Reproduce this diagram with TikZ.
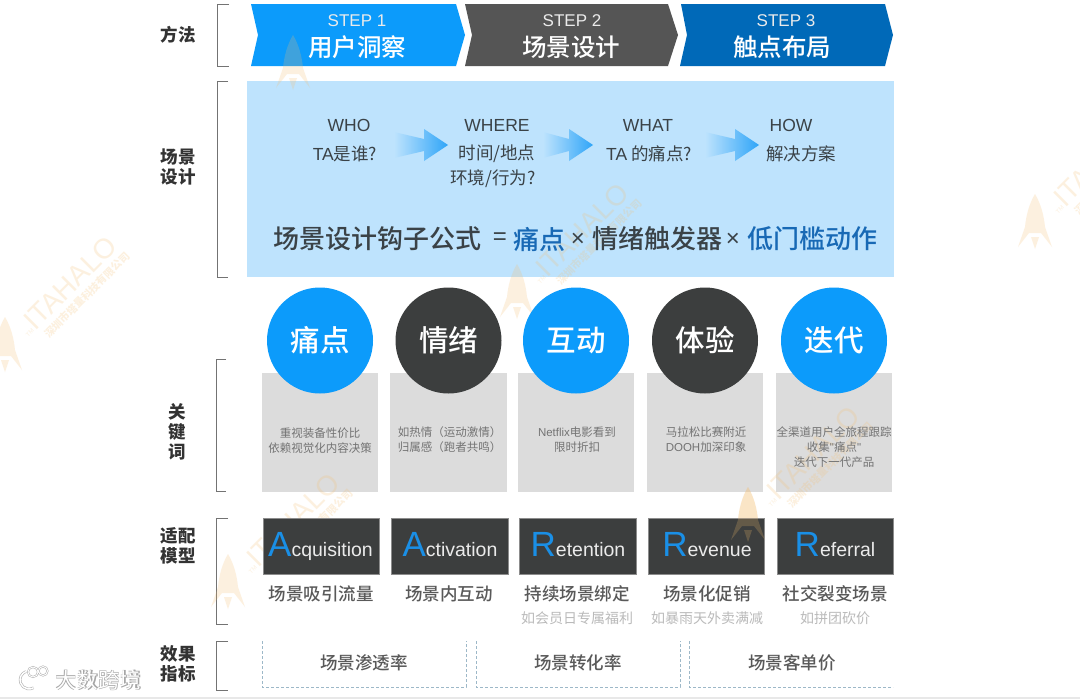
\documentclass[tikz,border=0pt]{standalone}
\usepackage{fontspec}
\usepackage{tikz}
\usetikzlibrary{calc}
\setmainfont{Noto Sans CJK SC}
\newfontfamily\lat{Liberation Sans}
\newfontfamily\med{Noto Sans CJK SC Medium}
\definecolor{skyfill}{HTML}{0C9BFB}
\definecolor{slatefill}{HTML}{555555}
\definecolor{navyfill}{HTML}{0069B8}
\definecolor{panelblue}{HTML}{BEE3FD}
\definecolor{arrowblue}{HTML}{2FA5F8}
\definecolor{inkblue}{HTML}{1869B5}
\definecolor{inkdark}{HTML}{3A4247}
\definecolor{darkfill}{HTML}{3C3E3E}
\definecolor{greyfill}{HTML}{DCDCDC}
\definecolor{letterblue}{HTML}{1A8FE6}
\definecolor{dashblue}{HTML}{9DB8C8}
\definecolor{stampink}{HTML}{F5BE6E}
\newcommand{\fsz}[1]{\fontsize{#1}{#1}\selectfont}
\tikzset{
	bracket/.style={draw=black!55,line width=1pt},
	sidelabel/.style={font=\fontsize{17.5}{20}\selectfont\bfseries,text=black!80,align=center,inner sep=0pt},
	steptag/.style={font=\lat\fsz{17},text=white!92!black,inner sep=0pt},
	steptitle/.style={font=\med\fsz{24.5},text=white,inner sep=0pt},
	asktext/.style={font=\fsz{17.5},text=inkdark,inner sep=0pt},
	asklat/.style={asktext,font=\lat\fsz{17.5}},
	formtext/.style={font=\med\fsz{26},text=inkdark,inner sep=0pt,anchor=west},
	formsign/.style={font=\lat\fsz{24},text=inkdark,inner sep=0pt},
	bubble/.style={circle,minimum size=106pt,inner sep=0pt,font=\med\fsz{29.5},text=white},
	notebox/.style={fill=greyfill,draw=none},
	notetext/.style={font=\fontsize{11.5}{15}\selectfont,text=black!55,align=center,inner sep=0pt},
	modelbox/.style={fill=darkfill,draw=black!45,line width=.5pt},
	modeltext/.style={anchor=base,inner sep=0pt,text=white!92!black,font=\lat\fsz{19.5}},
	usetext/.style={font=\med\fsz{17.5},text=black!65,inner sep=0pt},
	subtext/.style={font=\fsz{14},text=black!27,inner sep=0pt},
	metricline/.style={draw=dashblue,line width=.8pt,dash pattern=on 3pt off 2pt},
	metrictext/.style={font=\med\fsz{17.5},text=black!65,inner sep=0pt},
}
% big letter of a model name
\newcommand{\capl}[1]{{\fsz{35}\color{letterblue}#1}}
% faded arrow between the questions, tip at the named coordinate
\newcommand{\askarrow}[2]{
	\shade[left color=panelblue,right color=arrowblue]
		($(#1)+(-#2,-13)$) -- ($(#1)+(-24,-6)$) -- ($(#1)+(-24,-16)$) -- (#1)
		-- ($(#1)+(-24,16)$) -- ($(#1)+(-24,6)$) -- ($(#1)+(-#2,13)$) -- cycle;
}
% stamp over the whole sheet
\newcommand{\stamprocket}[2]{
	\begin{scope}[shift={(#1,#2)}]
		\fill[stampink] (0,-28) .. controls (6,-18) and (9,-6) .. (10,5) -- (17,25) -- (6,11) -- (-6,11) -- (-17,25) -- (-10,5) .. controls (-9,-6) and (-6,-18) .. (0,-28) -- cycle;
		\fill[stampink] (-4,15) -- (4,15) -- (0,27) -- cycle;
	\end{scope}
}
\newcommand{\stampmark}[3]{
	\stamprocket{#2}{#3}
	\begin{scope}[shift={(#2,#3)}]
		\node[rotate=45,font=\lat\fsz{28},text=stampink,inner sep=0pt] (stamp#1) at (65,-62) {ITAHALO};
		\node[rotate=45,font=\fsz{10.5}\bfseries,text=stampink,inner sep=0pt] (stampsub#1) at (82,-50) {深圳市塔量科技有限公司};
		\node[rotate=45,font=\lat\fsz{6},text=stampink,inner sep=0pt] (stamptm#1) at (25,-12) {TM};
	\end{scope}
}

\begin{document}
\begin{tikzpicture}[x=1pt,y=-1pt]
	\clip (0,0) rectangle (1080,699);
	\fill[white] (0,0) rectangle (1080,699);
	\fill[black!9] (0,697) rectangle (1080,699);

	% side brackets
	\draw[bracket] (229,4) -- (217,4) -- (217,66) -- (229,66);
	\draw[bracket] (228,81) -- (217,81) -- (217,277) -- (228,277);
	\draw[bracket] (226,359) -- (216,359) -- (216,491) -- (226,491);
	\draw[bracket] (228,518) -- (216,518) -- (216,624) -- (228,624);
	\draw[bracket] (228,641) -- (216,641) -- (216,690) -- (228,690);
	\node[sidelabel] (lbmethod) at (178,35) {方法};
	\node[sidelabel] (lbscene) at (178,167) {场景\\设计};
	\node[sidelabel] (lbkey) at (177,432) {关\\键\\词};
	\node[sidelabel] (lbmodel) at (178,546) {适配\\模型};
	\node[sidelabel] (lbeffect) at (178,664) {效果\\指标};

	% steps, panel and note boxes lie under the stamps
	\fill[skyfill] (251,4) -- (456,4) -- (465,35) -- (456,66) -- (251,66) -- (258,35) -- cycle;
	\fill[slatefill] (465,4) -- (668,4) -- (678,35) -- (668,66) -- (465,66) -- (472,35) -- cycle;
	\fill[navyfill] (681,4) -- (885,4) -- (893,35) -- (885,66) -- (680,66) -- (687,35) -- cycle;
	\fill[panelblue] (247,81) rectangle (894,277);
	\fill[notebox] (262,373) rectangle (378,492);
	\fill[notebox] (390,373) rectangle (507,492);
	\fill[notebox] (518,373) rectangle (634,492);
	\fill[notebox] (647,373) rectangle (763,492);
	\fill[notebox] (776,373) rectangle (892,492);

	% stamps
	\begin{scope}[opacity=.22]
		\stampmark{a}{5}{345}
		\stamprocket{293}{63}
		\stampmark{c}{517}{292}
		\stampmark{d}{228}{582}
		\stampmark{e}{748}{515}
		\stampmark{f}{1035}{222}
	\end{scope}

	% step texts
	\node[steptag] (tag1) at (357,21) {STEP 1};
	\node[steptitle] (title1) at (357,47) {用户洞察};
	\node[steptag] (tag2) at (572,21) {STEP 2};
	\node[steptitle] (title2) at (571,47) {场景设计};
	\node[steptag] (tag3) at (786,21) {STEP 3};
	\node[steptitle] (title3) at (782,47) {触点布局};

	% scene panel
	\node[asklat] (who) at (349,125) {WHO};
	\node[asktext] (whoq) at (345,154) {{\lat TA}是谁?};
	\node[asklat] (where) at (497,125) {WHERE};
	\node[asktext] (whereq) at (497,154) {时间/地点};
	\node[asktext] (whereq2) at (493,179) {环境/行为?};
	\node[asklat] (what) at (648,125) {WHAT};
	\node[asktext] (whatq) at (649,154) {{\lat TA} 的痛点?};
	\node[asklat] (how) at (791,125) {HOW};
	\node[asktext] (howq) at (801,154) {解决方案};
	\coordinate (tip1) at (448,145);
	\coordinate (tip2) at (593,145);
	\coordinate (tip3) at (759,145);
	\askarrow{tip1}{54}
	\askarrow{tip2}{50}
	\askarrow{tip3}{54}
	\node[formtext] (form1) at (273,239) {场景设计钩子公式};
	\node[formsign] (formeq) at (500,239) {=};
	\node[formtext,text=inkblue] (form2) at (513,239) {痛点};
	\node[formsign] (formx1) at (578,240) {×};
	\node[formtext] (form3) at (592,239) {情绪触发器};
	\node[formsign] (formx2) at (733,240) {×};
	\node[formtext,text=inkblue] (form4) at (747,239) {低门槛动作};

	% keywords
	\node[bubble,fill=skyfill] (pain) at (320,340.5) {痛点};
	\node[bubble,fill=darkfill] (mood) at (448.5,340.5) {情绪};
	\node[bubble,fill=skyfill] (talk) at (576,340.5) {互动};
	\node[bubble,fill=darkfill] (feel) at (705,340.5) {体验};
	\node[bubble,fill=skyfill] (iter) at (834,340.5) {迭代};
	\node[notetext] (note1) at (320,440.5) {重视装备性价比\\依赖视觉化内容决策};
	\node[notetext] (note2) at (449.5,440) {如热情（运动激情）\\归属感（跑者共鸣）};
	\node[notetext] (note3) at (577,440) {{\lat Netflix}电影看到\\限时折扣};
	\node[notetext] (note4) at (706,440) {马拉松比赛附近\\{\lat DOOH}加深印象};
	\node[notetext] (note5) at (834,447.5) {全渠道用户全旅程跟踪\\收集{\lat "}痛点{\lat "}\\迭代下一代产品};

	% models
	\filldraw[modelbox] (263,518) rectangle (379,574);
	\filldraw[modelbox] (391,518) rectangle (508,574);
	\filldraw[modelbox] (519,518) rectangle (636,574);
	\filldraw[modelbox] (648,518) rectangle (764,574);
	\filldraw[modelbox] (777,518) rectangle (893,574);
	\begin{scope}[opacity=.22]
		\stamprocket{748}{515}
	\end{scope}
	\node[modeltext] (acq) at (320.5,556) {\capl{A}cquisition};
	\node[modeltext] (act) at (450,556) {\capl{A}ctivation};
	\node[modeltext] (ret) at (578,556) {\capl{R}etention};
	\node[modeltext] (rev) at (707,556) {\capl{R}evenue};
	\node[modeltext] (ref) at (835,556) {\capl{R}eferral};
	\node[usetext] (use1) at (321,594) {场景吸引流量};
	\node[usetext] (use2) at (449,594) {场景内互动};
	\node[usetext] (use3) at (577,594) {持续场景绑定};
	\node[usetext] (use4) at (707,594) {场景化促销};
	\node[usetext] (use5) at (835,594) {社交裂变场景};
	\node[subtext] (sub3) at (577,618) {如会员日专属福利};
	\node[subtext] (sub4) at (707,618) {如暴雨天外卖满减};
	\node[subtext] (sub5) at (835,618) {如拼团砍价};

	% metrics
	\draw[metricline] (262,641) -- (262,687) -- (466,687) -- (466,641);
	\draw[metricline] (476,641) -- (476,687) -- (680,687) -- (680,641);
	\draw[metricline] (689,641) -- (689,687) -- (893,687);
	\node[metrictext] (rate1) at (364,663) {场景渗透率};
	\node[metrictext] (rate2) at (578,663) {场景转化率};
	\node[metrictext] (rate3) at (792,663) {场景客单价};

	% corner logo
	\draw[black!30,line width=2.6pt] (14,671) -- (14,689);
	\draw[black!30,line width=2.6pt] (26,671.5) arc[start angle=-110,end angle=-300,radius=9];
	\draw[black!30,line width=2pt] (33,672) circle (5) (43,671) circle (4.5);
	\draw[white,line width=1.4pt] (14,671) -- (14,689);
	\draw[white,line width=1.4pt] (26,671.5) arc[start angle=-110,end angle=-300,radius=9];
	\draw[white,line width=.9pt] (33,672) circle (5) (43,671) circle (4.5);
	\node[font=\fsz{21.5}\bfseries,text=black!35,inner sep=0pt] (logoshade) at (98.7,680.7) {大数跨境};
	\node[font=\fsz{21.5},text=white,inner sep=0pt] (logotext) at (98,680) {大数跨境};
\end{tikzpicture}
\end{document}
